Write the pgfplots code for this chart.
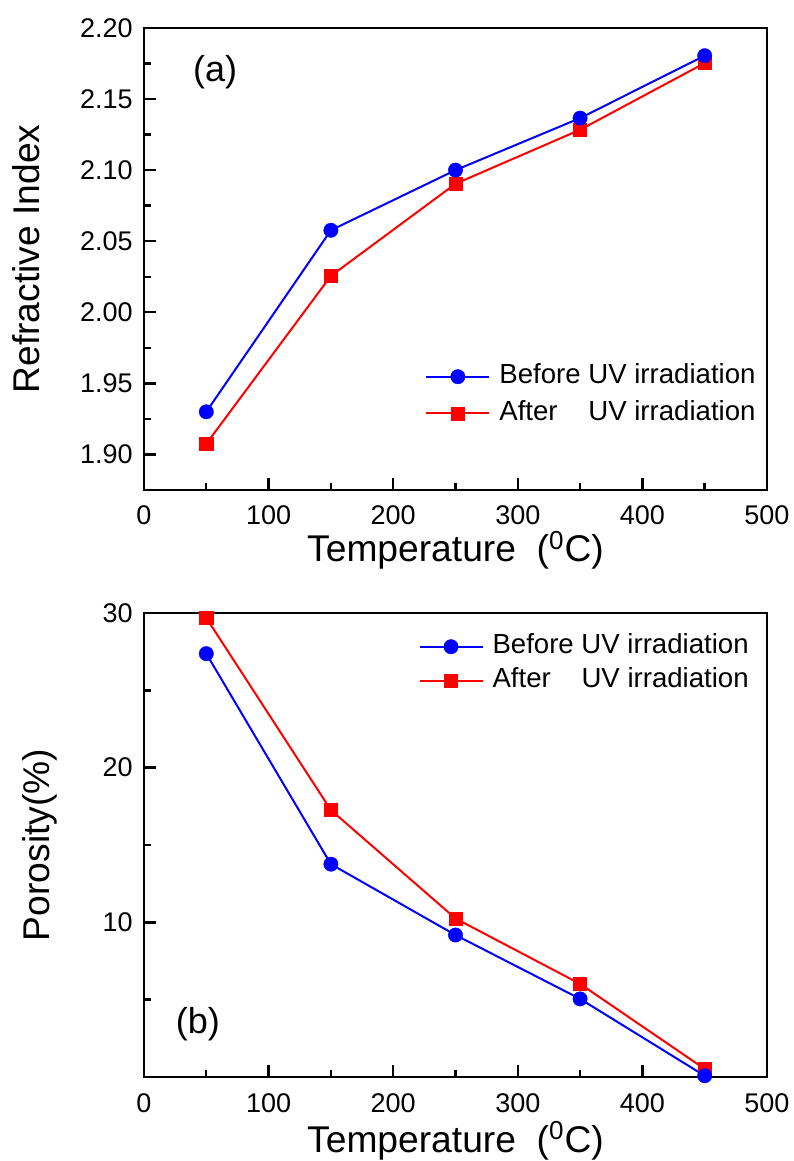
\documentclass[border=0pt]{standalone}
\usepackage{fontspec}
\setmainfont{Liberation Sans}
\usepackage{pgfplots}
\pgfplotsset{compat=1.18}
\begin{document}
\begin{tikzpicture}
\path[use as bounding box] (0,0) rectangle (396.5pt,580.5pt);
\pgfplotsset{
  common/.style={
    scale only axis, width=311.5pt,
    xmin=0, xmax=500, xtick={0,100,200,300,400,500}, minor x tick num=1,
    tick align=inside, tick pos=left,
    major tick length=6pt, minor tick length=3.5pt,
    every tick/.append style={black, line width=1.2pt},
    every minor tick/.append style={black, line width=1.2pt},
    axis line style={line width=1.4pt},
    tick label style={font=\fontsize{13.5}{16}\selectfont},
    /pgf/number format/assume math mode=true,
    xticklabel style={anchor=base, yshift=-17.5pt},
    yticklabel style={anchor=east, inner sep=0pt, xshift=-5.5pt},
    label style={font=\fontsize{18.6}{22}\selectfont},
    xlabel={Temperature\ \ (\textsuperscript{0}C)},
    legend cell align=left,
    reverse legend,
    legend image code/.code={\draw[mark repeat=2,mark phase=2] plot coordinates {(0pt,0pt) (15.75pt,0pt) (31.5pt,0pt)};},
  },
  bser/.style={blue, line width=1pt, mark=*, mark size=3.6pt, mark options={solid, fill=blue, draw=blue, line width=0.2pt}},
  rser/.style={red, line width=1pt, mark=square*, mark size=3.3pt, mark options={solid, fill=red, draw=red, line width=0.2pt}},
}
% ---------- panel (a)
\begin{axis}[common,
  at={(72pt,335.5pt)}, anchor=south west, height=231pt,
  ymin=1.875, ymax=2.20,
  ytick={1.9,1.95,2,2.05,2.1,2.15,2.2}, minor y tick num=1,
  yticklabel style={/pgf/number format/.cd, fixed, fixed zerofill, precision=2},
  ylabel={Refractive Index},
  ylabel style={at={(axis description cs:-0.1685,0.5)}, anchor=base},
  xlabel style={at={(axis description cs:0.5,0)}, anchor=base, yshift=-36pt},
  legend style={draw=none, fill=none, at={(0.451,0.2056)}, anchor=west,
    font=\fontsize{13.8}{16}\selectfont, inner sep=0pt, row sep=6.3pt, column sep=4.5pt,
    nodes={inner sep=0pt, text height=9.5pt, text depth=2.5pt}},
]
\addplot[rser] coordinates {(50,1.9075) (150,2.0256) (250,2.0904) (350,2.1284) (450,2.1753)};
\addlegendentry{\rlap{After}\phantom{Before} UV irradiation}
\addplot[bser] coordinates {(50,1.930) (150,2.0577) (250,2.100) (350,2.1366) (450,2.1805)};
\addlegendentry{Before UV irradiation}
\node[font=\fontsize{18}{21}\selectfont] at (axis cs:57,2.169) {(a)};
\end{axis}
% ---------- panel (b)
\begin{axis}[common,
  at={(72pt,42pt)}, anchor=south west, height=232pt,
  ymin=0, ymax=30,
  ytick={10,20,30}, minor ytick={5,15,25},
  ylabel={Porosity(\%)},
  ylabel style={at={(axis description cs:-0.151,0.5)}, anchor=base},
  xlabel style={at={(axis description cs:0.5,0)}, anchor=base, yshift=-37.5pt},
  legend style={draw=none, fill=none, at={(0.44,0.8907)}, anchor=west,
    font=\fontsize{13.8}{16}\selectfont, inner sep=0pt, row sep=5pt, column sep=4.5pt,
    nodes={inner sep=0pt, text height=9.5pt, text depth=2.5pt}},
]
\addplot[rser] coordinates {(50,29.68) (150,17.26) (250,10.25) (350,6.02) (450,0.52)};
\addlegendentry{\rlap{After}\phantom{Before} UV irradiation}
\addplot[bser] coordinates {(50,27.37) (150,13.76) (250,9.18) (350,5.05) (450,0.08)};
\addlegendentry{Before UV irradiation}
\node[font=\fontsize{18}{21}\selectfont] at (axis cs:43.3,3.44) {(b)};
\end{axis}
\end{tikzpicture}
\end{document}
